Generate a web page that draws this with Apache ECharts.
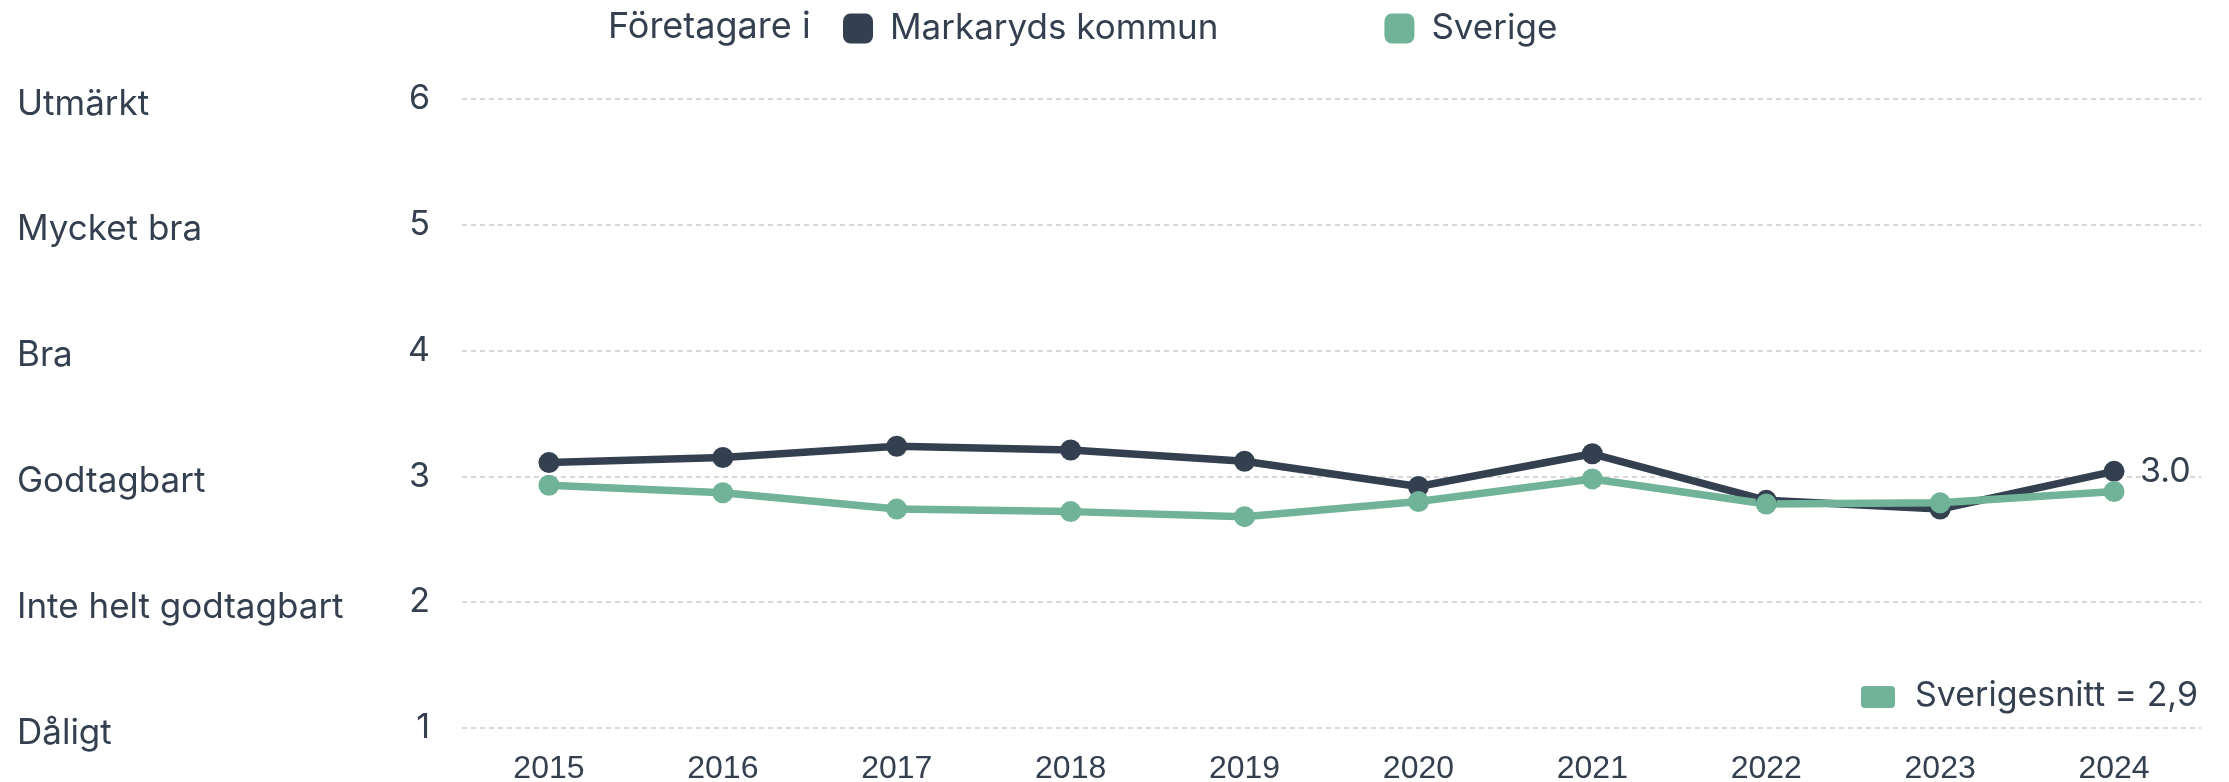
<!DOCTYPE html>
<html>
<head>
<meta charset="utf-8">
<script src="https://cdn.jsdelivr.net/npm/echarts@6/dist/echarts.min.js"></script>
<style>
  html, body { margin: 0; padding: 0; background: #fff; }
  #chart { width: 2229px; height: 782px; }
</style>
</head>
<body>
<div id="chart"></div>
<script>
// data
const years = ['2015', '2016', '2017', '2018', '2019', '2020', '2021', '2022', '2023', '2024'];
const markaryd = [3.11, 3.15, 3.24, 3.21, 3.12, 2.92, 3.18, 2.81, 2.74, 3.04];
const sverige = [2.93, 2.87, 2.74, 2.72, 2.68, 2.80, 2.98, 2.78, 2.79, 2.88];
const scaleNames = { 1: 'Dåligt', 2: 'Inte helt godtagbart', 3: 'Godtagbart', 4: 'Bra', 5: 'Mycket bra', 6: 'Utmärkt' };
const sverigesnitt = 2.9;

const dark = '#344050';
const green = '#70b398';
const font = 'Inter, "Noto Sans", sans-serif';

const chart = echarts.init(document.getElementById('chart'));

chart.setOption({
  animation: false,
  textStyle: { color: dark, fontFamily: font },
  title: {
    text: 'Företagare i',
    left: 603,
    top: 4,
    textStyle: { color: dark, fontFamily: font, fontSize: 36, fontWeight: 'normal' }
  },
  legend: {
    left: 838,
    top: 6,
    icon: 'roundRect',
    itemWidth: 30,
    itemHeight: 30,
    itemGap: 166,
    textStyle: { color: dark, fontFamily: font, fontSize: 35, padding: [0, 0, 0, 12] },
    data: ['Markaryds kommun', 'Sverige']
  },
  grid: { left: 462, right: 28, top: 99, bottom: 54, containLabel: false, outerBoundsMode: 'none' },
  xAxis: {
    type: 'category',
    data: years,
    boundaryGap: true,
    axisLine: { show: false },
    axisTick: { show: false },
    axisLabel: {
      margin: 25,
      fontSize: 32,
      fontFamily: '"Liberation Sans", Arial, sans-serif',
      color: dark
    }
  },
  yAxis: {
    type: 'value',
    min: 1,
    max: 6,
    interval: 1,
    axisLine: { show: false },
    axisTick: { show: false },
    splitLine: { lineStyle: { color: '#cccccc', width: 1.5, type: [5, 4] } },
    axisLabel: {
      align: 'left',
      margin: 445,
      formatter: (v) => '{name|' + scaleNames[v] + '}{num|' + v + '}',
      rich: {
        name: { width: 390, fontSize: 35, fontFamily: font, color: dark, padding: [10, 0, 0, 0] },
        num: { width: 23, align: 'right', fontSize: 34, fontFamily: font, color: dark }
      }
    }
  },
  series: [
    {
      name: 'Markaryds kommun',
      type: 'line',
      data: markaryd,
      color: dark,
      symbol: 'circle',
      symbolSize: 21,
      lineStyle: { width: 7.5, color: dark },
      itemStyle: { color: dark },
      endLabel: {
        show: true,
        distance: 26,
        formatter: (p) => p.value.toFixed(1),
        fontSize: 34,
        fontFamily: font,
        color: dark,
        textBorderColor: '#fff',
        textBorderWidth: 3
      }
    },
    {
      name: 'Sverige',
      type: 'line',
      data: sverige,
      color: green,
      symbol: 'circle',
      symbolSize: 21,
      lineStyle: { width: 7.5, color: green },
      itemStyle: { color: green }
    }
  ],
  graphic: [
    {
      type: 'rect',
      left: 1861,
      top: 686,
      shape: { width: 34, height: 22, r: 4 },
      style: { fill: green }
    },
    {
      type: 'text',
      left: 1915,
      top: 679,
      style: {
        text: 'Sverigesnitt = ' + String(sverigesnitt).replace('.', ','),
        fontSize: 34,
        fontFamily: font,
        fill: dark
      }
    }
  ]
});
</script>
</body>
</html>
